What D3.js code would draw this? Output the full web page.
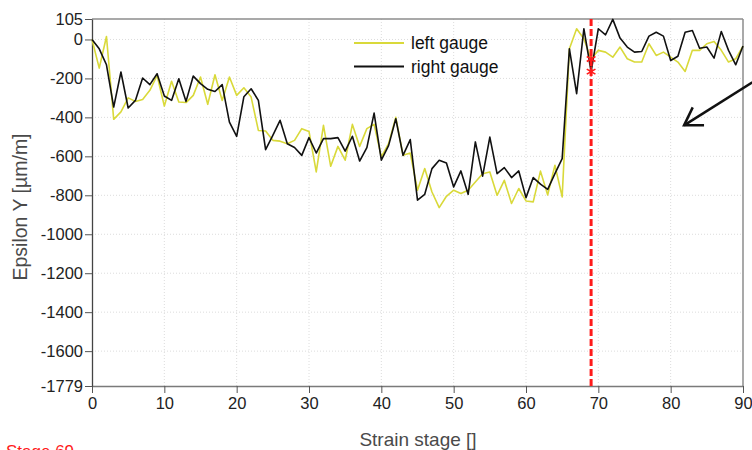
<!DOCTYPE html>
<html>
<head>
<meta charset="utf-8">
<script src="https://cdn.jsdelivr.net/npm/d3@7"></script>
<style>
  body { margin: 0; background: #fff; }
  svg { display: block; font-family: "Liberation Sans", Arial, sans-serif; }
</style>
</head>
<body>
<div id="chart"></div>
<script>
// strain stages 0..90
const stages = d3.range(0, 91);

// left gauge (yellow)
const leftGauge = [
  0, -147, 15, -410, -372, -300, -318, -308, -261, -185,
  -342, -215, -321, -324, -287, -193, -333, -181, -313, -193,
  -287, -248, -296, -467, -470, -518, -522, -535, -518, -458,
  -472, -680, -441, -651, -549, -620, -436, -549, -458, -436,
  -603, -535, -400, -595, -583, -774, -663, -783, -863, -805,
  -774, -791, -774, -732, -689, -680, -800, -723, -842, -765,
  -829, -834, -676, -798, -646, -808, -48, 55, 4, -100,
  -56, -65, -91, -39, -99, -116, -116, -22, -82, -65,
  -91, -116, -164, -56, -56, -22, -10, -56, -116, -99,
  -34
];

// right gauge (black)
const rightGauge = [
  0, -48, -130, -347, -167, -352, -313, -198, -232, -176,
  -290, -313, -202, -318, -188, -227, -256, -267, -232, -424,
  -498, -294, -253, -313, -566, -492, -415, -535, -555, -595,
  -504, -583, -509, -509, -504, -573, -497, -624, -555, -378,
  -620, -545, -407, -595, -514, -825, -795, -663, -620, -634,
  -757, -675, -795, -526, -702, -501, -689, -658, -709, -675,
  -812, -709, -743, -770, -689, -612, -48, -278, 55, -165,
  55, 24, 103, 7, -39, -65, -62, 17, 37, 17,
  -108, -86, 37, 46, -45, -39, -96, 41, -56, -130,
  -34
];

const xTicks = [0, 10, 20, 30, 40, 50, 60, 70, 80, 90];
const yTicks = [105, 0, -200, -400, -600, -800, -1000, -1200, -1400, -1600, -1779];
const yGrid = [0, -200, -400, -600, -800, -1000, -1200, -1400, -1600];
const currentStage = 69;

// annotation arrow, in data units (stage, epsilon)
const arrowFrom = [91.3, -220];
const arrowTo = [81.85, -441];

const W = 752, H = 450;
const margin = { top: 19, right: 9, bottom: 64, left: 92 };

const svg = d3.select('#chart')
  .append('svg')
  .attr('width', W)
  .attr('height', H);

const x = d3.scaleLinear().domain([0, 90]).range([margin.left, W - margin.right]);
const y = d3.scaleLinear().domain([-1779, 105]).range([H - margin.bottom, margin.top]);

// grid
const grid = svg.append('g');
grid.selectAll('.gx')
  .data(xTicks.slice(1, -1))
  .enter()
  .append('line')
  .attr('x1', d => x(d)).attr('x2', d => x(d))
  .attr('y1', y(105)).attr('y2', y(-1779))
  .attr('stroke', '#dcdcdc')
  .attr('stroke-dasharray', '1,2');
grid.selectAll('.gy')
  .data(yGrid)
  .enter()
  .append('line')
  .attr('x1', x(0)).attr('x2', x(90))
  .attr('y1', d => y(d)).attr('y2', d => y(d))
  .attr('stroke', '#dcdcdc')
  .attr('stroke-dasharray', '1,2');

// frame top / right
svg.append('line')
  .attr('x1', x(0)).attr('x2', x(90))
  .attr('y1', y(105)).attr('y2', y(105))
  .attr('stroke', '#8c8c8c').attr('stroke-width', 1.5);
svg.append('line')
  .attr('x1', x(90)).attr('x2', x(90))
  .attr('y1', y(105)).attr('y2', y(-1779))
  .attr('stroke', '#8c8c8c').attr('stroke-width', 1.5);

// axes
const fmt = d => String(d);

const xAxis = svg.append('g')
  .attr('transform', `translate(0,${y(-1779)})`)
  .call(d3.axisBottom(x).tickValues(xTicks).tickFormat(fmt).tickSizeInner(7).tickSizeOuter(0).tickPadding(4));
xAxis.select('.domain').attr('stroke', '#7a7a7a').attr('stroke-width', 1.5);
xAxis.selectAll('.tick line').attr('stroke', '#555');
xAxis.selectAll('text').attr('font-size', '16.5px').attr('fill', '#222');

const yAxis = svg.append('g')
  .attr('transform', `translate(${x(0)},0)`)
  .call(d3.axisLeft(y).tickValues(yTicks).tickFormat(fmt).tickSizeInner(7).tickSizeOuter(0).tickPadding(2));
yAxis.select('.domain').attr('stroke', '#444').attr('stroke-width', 1.3);
yAxis.selectAll('.tick line').attr('stroke', '#555');
yAxis.selectAll('text').attr('font-size', '16.5px').attr('fill', '#222');

// lines
const line = d3.line()
  .x((d, i) => x(stages[i]))
  .y(d => y(d));

svg.append('path')
  .datum(leftGauge)
  .attr('fill', 'none')
  .attr('stroke', '#d9d93a')
  .attr('stroke-width', 1.6)
  .attr('stroke-linejoin', 'round')
  .attr('d', line);

svg.append('path')
  .datum(rightGauge)
  .attr('fill', 'none')
  .attr('stroke', '#111')
  .attr('stroke-width', 1.6)
  .attr('stroke-linejoin', 'round')
  .attr('d', line);

// current stage marker
svg.append('line')
  .attr('x1', x(currentStage)).attr('x2', x(currentStage))
  .attr('y1', y(105)).attr('y2', y(-1779))
  .attr('stroke', '#ff1a1a')
  .attr('stroke-width', 3)
  .attr('stroke-dasharray', '7,3');

const stageIdx = stages.indexOf(currentStage);
svg.append('g')
  .selectAll('path')
  .data([leftGauge[stageIdx], rightGauge[stageIdx]])
  .enter()
  .append('path')
  .attr('transform', d => `translate(${x(currentStage)},${y(d)})`)
  .attr('d', d3.symbol(d3.symbolAsterisk, 70))
  .attr('fill', 'none')
  .attr('stroke', '#ff1a1a')
  .attr('stroke-width', 1.6);

// legend
const legend = svg.append('g');
const legendItems = [
  { label: 'left gauge', color: '#d9d93a' },
  { label: 'right gauge', color: '#111' }
];
legendItems.forEach((d, i) => {
  const ly = 43 + i * 23.5;
  legend.append('line')
    .attr('x1', 354).attr('x2', 404)
    .attr('y1', ly).attr('y2', ly)
    .attr('stroke', d.color)
    .attr('stroke-width', 2);
  legend.append('text')
    .attr('x', 411).attr('y', ly + 6)
    .attr('font-size', '17.5px')
    .attr('fill', '#111')
    .text(d.label);
});

// arrow annotation
const ax0 = x(arrowFrom[0]), ay0 = y(arrowFrom[1]);
const ax1 = x(arrowTo[0]), ay1 = y(arrowTo[1]);
const ang = Math.atan2(ay0 - ay1, ax0 - ax1);
const wing = 20, spread = 0.56;
svg.append('line')
  .attr('x1', ax0).attr('y1', ay0)
  .attr('x2', ax1).attr('y2', ay1)
  .attr('stroke', '#111').attr('stroke-width', 2.5);
svg.append('path')
  .attr('d', `M${ax1 + wing * Math.cos(ang - spread)},${ay1 + wing * Math.sin(ang - spread)}` +
             `L${ax1},${ay1}` +
             `L${ax1 + wing * Math.cos(ang + spread)},${ay1 + wing * Math.sin(ang + spread)}`)
  .attr('fill', 'none')
  .attr('stroke', '#111')
  .attr('stroke-width', 2.5)
  .attr('stroke-linejoin', 'miter');

// axis titles
svg.append('text')
  .attr('x', 418).attr('y', 446)
  .attr('text-anchor', 'middle')
  .attr('font-size', '19px')
  .attr('fill', '#4a4a4a')
  .text('Strain stage []');

svg.append('text')
  .attr('transform', 'translate(27,207) rotate(-90)')
  .attr('text-anchor', 'middle')
  .attr('font-size', '19.5px')
  .attr('fill', '#4a4a4a')
  .text('Epsilon Y [µm/m]');

// partly below the bottom edge, as in the original
svg.append('text')
  .attr('x', 6).attr('y', 457)
  .attr('font-size', '17px')
  .attr('fill', '#ff1a1a')
  .text('Stage ' + currentStage);
</script>
</body>
</html>
